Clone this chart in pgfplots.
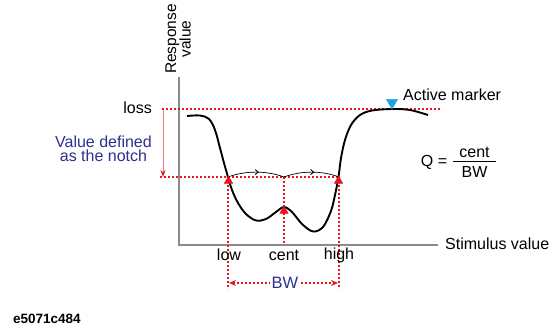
\documentclass[border=0pt]{standalone}
\usepackage{pgfplots}
\pgfplotsset{compat=1.18}
\usepackage{fontspec}
\setmainfont{Liberation Sans}
\usetikzlibrary{arrows.meta,decorations.markings}
\definecolor{nred}{HTML}{E8141E}
\definecolor{pinkred}{HTML}{F07A80}
\definecolor{tblue}{HTML}{2B2F8F}
\definecolor{mblue}{HTML}{1AA3E8}
\definecolor{axgray}{HTML}{8A8A8A}
\begin{document}
\begin{tikzpicture}
\begin{axis}[scale only axis, width=550pt, height=330pt,
  xmin=0, xmax=550, ymin=0, ymax=330, y dir=reverse,
  hide axis, clip=false]
\path[draw=none] (axis cs:0,0) rectangle (axis cs:550,330);
% axes
\draw[axgray, line width=1.4pt] (axis cs:179,77) -- (axis cs:179,245) -- (axis cs:438,245);
% dotted red guides
\tikzset{rdot/.style={nred, line width=1.6pt, dash pattern=on 1.6pt off 2.4pt}}
\draw[rdot] (axis cs:162,109) -- (axis cs:440,109);
\draw[rdot] (axis cs:160,177) -- (axis cs:339,177);
\draw[rdot] (axis cs:228,177) -- (axis cs:228,289);
\draw[rdot] (axis cs:284,177) -- (axis cs:284,245);
\draw[rdot] (axis cs:339,177) -- (axis cs:339,289);
% notch arrow
\draw[pinkred, line width=1pt, -{Stealth[nred, length=7pt, width=5pt]}] (axis cs:163,110) -- (axis cs:163,177);
% BW arrow
\draw[rdot, {Stealth[length=7pt,width=6pt]}-{Stealth[length=7pt,width=6pt]}] (axis cs:229,283) -- (axis cs:338,283);
\node[fill=white, inner sep=1.5pt, text=tblue, font=\fontsize{16.5}{19}\selectfont] at (axis cs:285,283) {BW};
% arcs
\draw[black, line width=0.7pt, postaction={decorate}, decoration={markings, mark=at position 0.55 with {\arrow[line width=0.9pt]{Straight Barb[length=3pt,width=5pt]}}}]
  (axis cs:228,177) .. controls (axis cs:245,170.5) and (axis cs:267,170.5) .. (axis cs:284,177);
\draw[black, line width=0.7pt, postaction={decorate}, decoration={markings, mark=at position 0.55 with {\arrow[line width=0.9pt]{Straight Barb[length=3pt,width=5pt]}}}]
  (axis cs:284,177) .. controls (axis cs:301,170.5) and (axis cs:322,170.5) .. (axis cs:339,177);
% response curve
\addplot[black, line width=1.9pt, smooth, tension=0.55] coordinates {
(187,116)(200,115.5)(209,119)(215,130)(220,148)(224,163)(228,177)(232,190)(238,203)(246,214)(256,220.5)(266,219)(276,212)(284,207)(292,212)(302,224)(313,231.5)(323,227)(331,211)(335,195)(338.5,177)(341,158)(345,140)(351,125)(360,115)(372,110.5)(392,109)(410,110)(428,115)
};
% markers
\addplot[only marks, mark=triangle*, mark size=4.9pt, color=nred, mark options={yshift=-4.9pt}] coordinates {(228.5,176)(284,206)(338.5,176)};
\addplot[only marks, mark=triangle*, mark size=6.4pt, color=mblue, mark options={yshift=6.4pt, rotate=180}] coordinates {(392,109)};
% texts
\node[anchor=east, inner sep=0pt, font=\fontsize{16}{19}\selectfont] at (axis cs:152,108) {loss};
\node[anchor=east, inner sep=0pt, align=center, text=tblue, font=\fontsize{16}{14.5}\selectfont] at (axis cs:152,149) {Value defined\\as the notch};
\node[rotate=90, align=center, inner sep=0pt, font=\fontsize{15.5}{14.5}\selectfont] at (axis cs:178,39) {Response\\value};
\node[anchor=west, inner sep=0pt, font=\fontsize{16}{19}\selectfont] at (axis cs:445,244) {Stimulus value};
\node[anchor=west, inner sep=0pt, font=\fontsize{16}{19}\selectfont] at (axis cs:403,95) {Active marker};
\node[inner sep=0pt, font=\fontsize{16}{19}\selectfont] at (axis cs:229,255) {low};
\node[inner sep=0pt, font=\fontsize{16}{19}\selectfont] at (axis cs:284,255) {cent};
\node[inner sep=0pt, font=\fontsize{16}{19}\selectfont] at (axis cs:339,255) {high};
\node[inner sep=0pt, font=\fontsize{16}{19}\selectfont] at (axis cs:434,162) {Q =};
\draw[black, line width=0.8pt] (axis cs:453,161) -- (axis cs:496,161);
\node[inner sep=0pt, font=\fontsize{16}{19}\selectfont] at (axis cs:474.5,152) {cent};
\node[inner sep=0pt, font=\fontsize{16}{19}\selectfont] at (axis cs:474.5,172) {BW};
\node[anchor=west, inner sep=0pt, font=\bfseries\fontsize{13.5}{16}\selectfont] at (axis cs:13,319) {e5071c484};
\end{axis}
\end{tikzpicture}
\end{document}
